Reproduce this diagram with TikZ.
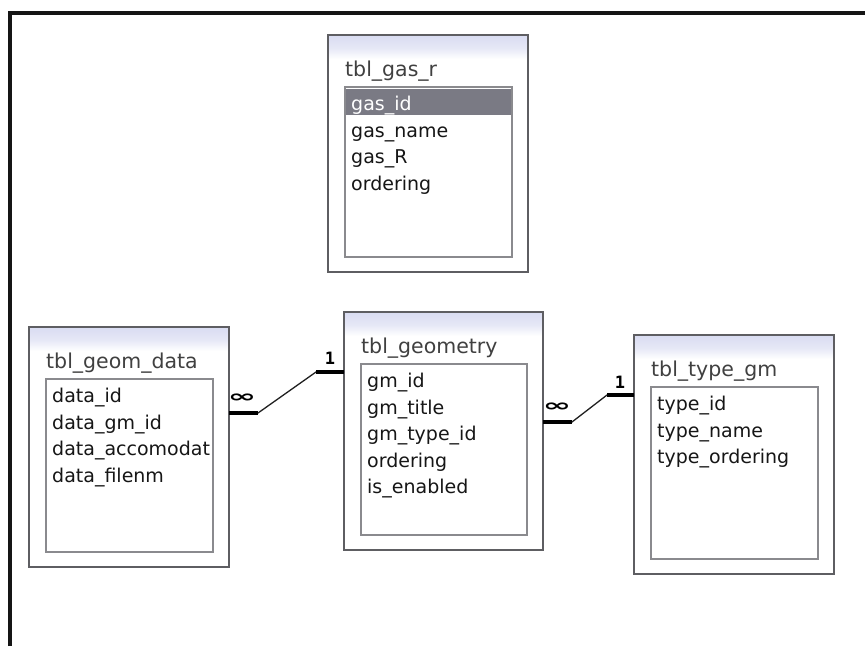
\documentclass[tikz,border=0pt]{standalone}
\usepackage{fontspec}
\setmainfont{DejaVu Sans}
\newfontfamily\markfont{DejaVu Sans Mono}
\usetikzlibrary{calc}

\definecolor{framecol}{HTML}{151515}
\definecolor{boxgray}{HTML}{5E5E62}
\definecolor{innergray}{HTML}{8A8A8E}
\definecolor{headtint}{HTML}{DADDF2}
\definecolor{keyrow}{HTML}{7A7A84}
\definecolor{titlecol}{HTML}{404040}
\definecolor{fieldcol}{HTML}{161616}
\definecolor{linkcol}{HTML}{202020}

\tikzset{
  tblbox/.style={draw=boxgray, line width=1.6pt, fill=white, anchor=north west,
                 inner sep=0pt, outer sep=0pt},
  fieldbox/.style={draw=innergray, line width=1.2pt, anchor=north west,
                 inner sep=0pt, outer sep=0pt},
  headshade/.style={top color=headtint, bottom color=white, middle color=headtint!70!white},
  titletext/.style={anchor=base west, inner sep=0pt, text=titlecol,
                 font=\fontsize{20.5}{20.5}\selectfont},
  fieldtext/.style={anchor=base west, inner sep=0pt, text=fieldcol,
                 font=\fontsize{19}{19}\selectfont},
  keytext/.style={fieldtext, text=white},
  link/.style={draw=linkcol, line width=1.3pt},
  endbar/.style={draw=black, line width=4pt},
  manymark/.style={inner sep=0pt, font=\bfseries\fontsize{34}{34}\selectfont},
  onemark/.style={inner sep=0pt, font=\markfont\bfseries\fontsize{17}{17}\selectfont},
}

% one table: name, x, y, width, height, title
\newcommand\erbox[6]{%
  \node[tblbox, minimum width=#4pt, minimum height=#5pt] (#1) at (#2,#3) {};
  \fill[headshade] ($(#1.north west)+(1.2,1.2)$) rectangle ($(#1.north east)+(-1.2,24)$);
  \node[titletext] (#1-title) at ($(#1.north west)+(17,41)$) {#6};
  \node[fieldbox, minimum width=#4pt-33pt, minimum height=#5pt-67pt]
       (#1-fields) at ($(#1.north west)+(17,52)$) {};
}
% one field line: node name, table, row index, text
\newcommand\erfield[4]{%
  \node[fieldtext] (#1) at ($(#2-fields.north west)+(6,{23.5+26.5*#3})$) {#4};
}

\begin{document}
\begin{tikzpicture}[x=1pt,y=-1pt]
\useasboundingbox (0,0) rectangle (865,646);
\fill[white] (0,0) rectangle (865,646);

% window frame
\draw[framecol, line width=4pt, line join=miter] (10,646) -- (10,13) -- (865,13);

% tables
\erbox{gas}{328}{35}{200}{237}{tbl\_gas\_r}
\erbox{gd}{29}{327}{200}{240}{tbl\_geom\_data}
\erbox{geo}{344}{312}{199}{238}{tbl\_geometry}
\erbox{tgm}{634}{335}{200}{239}{tbl\_type\_gm}

% tbl_gas_r fields, key selected
\fill[keyrow] ($(gas-fields.north west)+(1,2)$) rectangle ($(gas-fields.north east)+(-1,28)$);
\node[keytext] (gas-f0) at ($(gas-fields.north west)+(6,23.5)$) {gas\_id};
\erfield{gas-f1}{gas}{1}{gas\_name}
\erfield{gas-f2}{gas}{2}{gas\_R}
\erfield{gas-f3}{gas}{3}{ordering}

% tbl_geom_data fields (clipped by the list box)
\begin{scope}
  \clip ($(gd-fields.north west)+(1,1)$) rectangle ($(gd-fields.south east)+(-1,-1)$);
  \erfield{gd-f0}{gd}{0}{data\_id}
  \erfield{gd-f1}{gd}{1}{data\_gm\_id}
  \erfield{gd-f2}{gd}{2}{data\_accomodat}
  \erfield{gd-f3}{gd}{3}{data\_filenm}
\end{scope}

% tbl_geometry fields
\erfield{geo-f0}{geo}{0}{gm\_id}
\erfield{geo-f1}{geo}{1}{gm\_title}
\erfield{geo-f2}{geo}{2}{gm\_type\_id}
\erfield{geo-f3}{geo}{3}{ordering}
\erfield{geo-f4}{geo}{4}{is\_enabled}

% tbl_type_gm fields
\erfield{tgm-f0}{tgm}{0}{type\_id}
\erfield{tgm-f1}{tgm}{1}{type\_name}
\erfield{tgm-f2}{tgm}{2}{type\_ordering}

% relationship: tbl_geom_data (many) -> tbl_geometry (one)
\coordinate (r1a) at ($(gd.north east)+(0,86)$);
\coordinate (r1b) at ($(geo.north west)+(0,60)$);
\draw[link] (r1a) -- ++(29,0) -- ($(r1b)+(-28,0)$) -- (r1b);
\draw[endbar] (r1a) -- ++(29,0);
\draw[endbar] ($(r1b)+(-28,0)$) -- (r1b);
\node[manymark] (r1m) at ($(r1a)+(13,-15)$) {\scalebox{1}[0.5]{∞}};
\node[onemark] (r1o) at ($(r1b)+(-14,-14)$) {1};

% relationship: tbl_geometry (many) -> tbl_type_gm (one)
\coordinate (r2a) at ($(geo.north east)+(0,110)$);
\coordinate (r2b) at ($(tgm.north west)+(0,60)$);
\draw[link] (r2a) -- ++(29,0) -- ($(r2b)+(-27,0)$) -- (r2b);
\draw[endbar] (r2a) -- ++(29,0);
\draw[endbar] ($(r2b)+(-27,0)$) -- (r2b);
\node[manymark] (r2m) at ($(r2a)+(14,-15)$) {\scalebox{1}[0.5]{∞}};
\node[onemark] (r2o) at ($(r2b)+(-14,-13)$) {1};
\end{tikzpicture}
\end{document}
